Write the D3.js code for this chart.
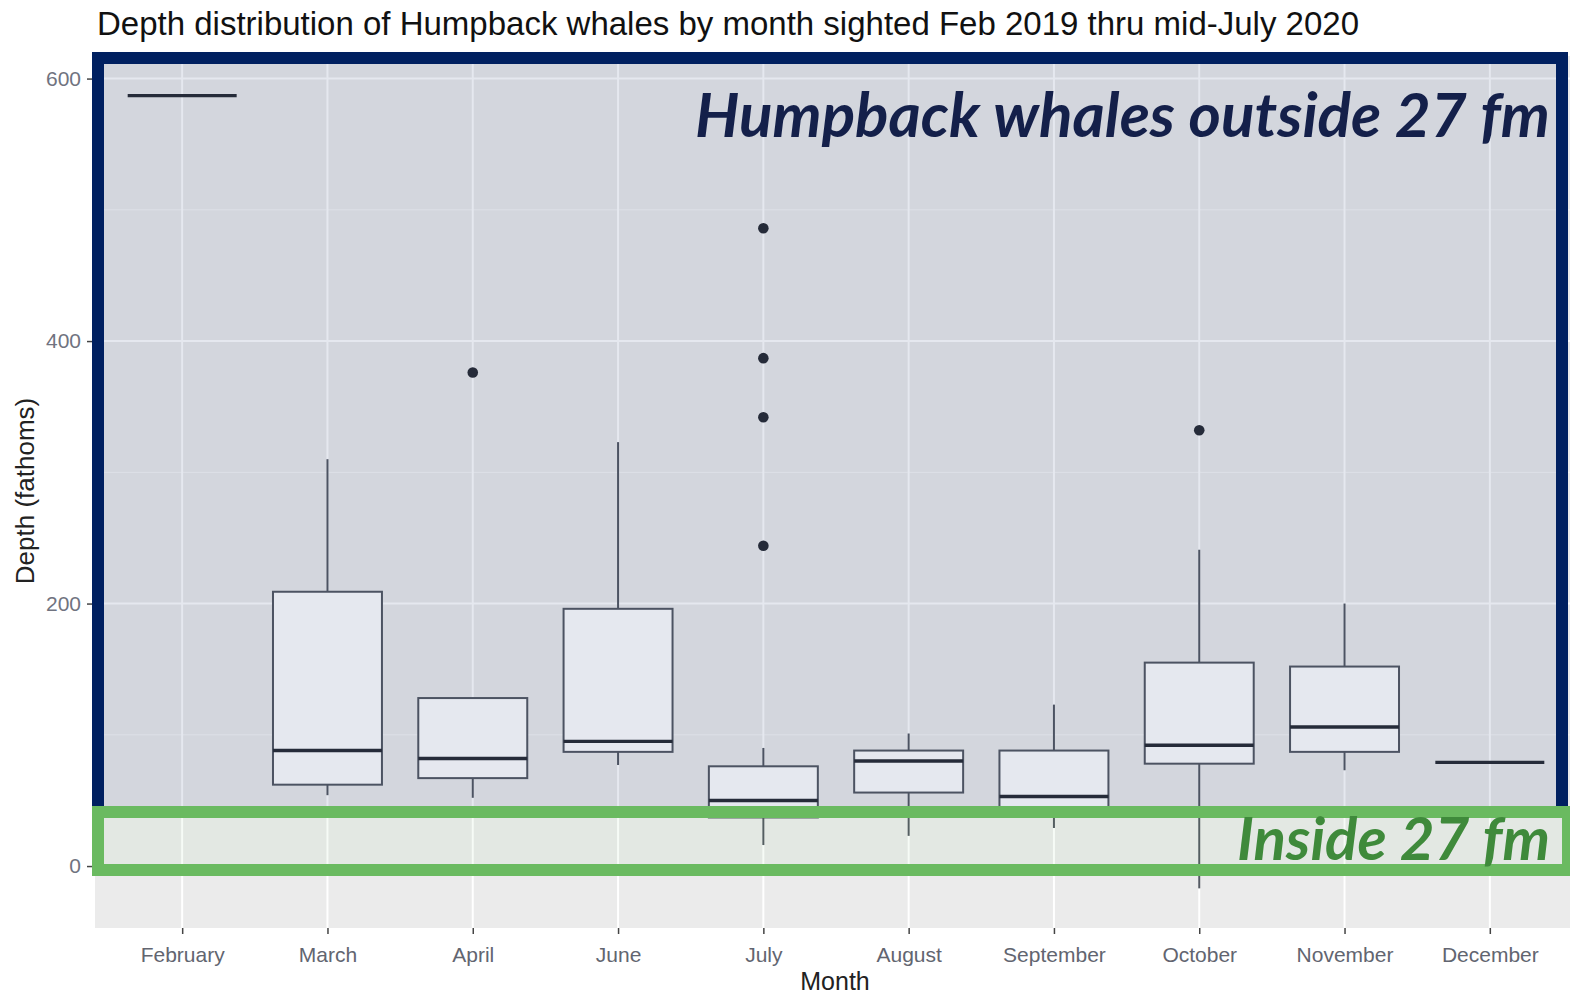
<!DOCTYPE html>
<html>
<head>
<meta charset="utf-8">
<script src="https://cdn.jsdelivr.net/npm/d3@7"></script>
<style>
  body { margin: 0; background: #fff; }
  svg { display: block; }
</style>
</head>
<body>
<svg id="chart"></svg>
<script>
'use strict';
// months on the x axis
var months = ["February", "March", "April", "June", "July", "August", "September", "October", "November", "December"];
// box stats per month (fathoms)
var lowWhisker = [587, 54, 52, 77, 16, 23, 29, -17, 73, 79];
var q1Values = [587, 62, 67, 87, 37, 56, 45, 78, 87, 79];
var medians = [587, 88, 82, 95, 50, 80, 53, 92, 106, 79];
var q3Values = [587, 209, 128, 196, 76, 88, 88, 155, 152, 79];
var highWhisker = [587, 310, 128, 323, 90, 101, 123, 241, 200, 79];
// outlier points
var outlierMonths = ["April", "July", "July", "July", "July", "October"];
var outlierValues = [376, 486, 387, 342, 244, 332];
var yTicks = [0, 200, 400, 600];
var yMinor = [100, 300, 500];

var W = 1570, H = 996;
var panel = { left: 95, right: 1577, top: 56, bottom: 928 };

var svg = d3.select("#chart").attr("width", W).attr("height", H);

var x = d3.scalePoint().domain(months).range([panel.left, panel.right]).padding(0.6);
var y = d3.scaleLinear().domain([-47.2, 617.2]).range([panel.bottom, panel.top]);
var boxW = x.step() * 0.75;

// panel background
svg.append("rect")
  .attr("x", panel.left).attr("y", panel.top)
  .attr("width", panel.right - panel.left).attr("height", panel.bottom - panel.top)
  .attr("fill", "#ebebeb");

// grid
var grid = svg.append("g");
grid.selectAll(".minor").data(yMinor).enter().append("line")
  .attr("x1", panel.left).attr("x2", panel.right)
  .attr("y1", function(d) { return y(d); }).attr("y2", function(d) { return y(d); })
  .attr("stroke", "#f7f7f7").attr("stroke-width", 1);
grid.selectAll(".major").data(yTicks).enter().append("line")
  .attr("x1", panel.left).attr("x2", panel.right)
  .attr("y1", function(d) { return y(d); }).attr("y2", function(d) { return y(d); })
  .attr("stroke", "#fff").attr("stroke-width", 2);
grid.selectAll(".vmajor").data(months).enter().append("line")
  .attr("x1", function(d) { return x(d); }).attr("x2", function(d) { return x(d); })
  .attr("y1", panel.top).attr("y2", panel.bottom)
  .attr("stroke", "#fff").attr("stroke-width", 2);

// boxplots
var stats = months.map(function(m, i) {
  return { month: m, lo: lowWhisker[i], q1: q1Values[i], med: medians[i], q3: q3Values[i], hi: highWhisker[i] };
});
var lineCol = "#555a63";
var boxes = svg.append("g").selectAll("g").data(stats).enter().append("g");
boxes.append("line")
  .attr("x1", function(d) { return x(d.month); }).attr("x2", function(d) { return x(d.month); })
  .attr("y1", function(d) { return y(d.hi); }).attr("y2", function(d) { return y(d.q3); })
  .attr("stroke", lineCol).attr("stroke-width", 2);
boxes.append("line")
  .attr("x1", function(d) { return x(d.month); }).attr("x2", function(d) { return x(d.month); })
  .attr("y1", function(d) { return y(d.q1); }).attr("y2", function(d) { return y(d.lo); })
  .attr("stroke", lineCol).attr("stroke-width", 2);
boxes.append("rect")
  .attr("x", function(d) { return x(d.month) - boxW / 2; })
  .attr("width", boxW)
  .attr("y", function(d) { return y(d.q3); })
  .attr("height", function(d) { return y(d.q1) - y(d.q3); })
  .attr("fill", "#fff").attr("stroke", lineCol).attr("stroke-width", 2);
boxes.append("line")
  .attr("x1", function(d) { return x(d.month) - boxW / 2; })
  .attr("x2", function(d) { return x(d.month) + boxW / 2; })
  .attr("y1", function(d) { return y(d.med); }).attr("y2", function(d) { return y(d.med); })
  .attr("stroke", "#2a2d35").attr("stroke-width", 3.4);

svg.append("g").selectAll("circle").data(outlierValues).enter().append("circle")
  .attr("cx", function(d, i) { return x(outlierMonths[i]); })
  .attr("cy", function(d) { return y(d); })
  .attr("r", 5.3)
  .attr("fill", "#2a2d35");

// axes
var xAxis = svg.append("g")
  .attr("transform", "translate(0," + panel.bottom + ")")
  .call(d3.axisBottom(x).tickSizeInner(6).tickSizeOuter(0).tickPadding(13));
xAxis.select(".domain").remove();
xAxis.selectAll("line").attr("stroke", "#444").attr("stroke-width", 1.5);
xAxis.selectAll("text")
  .attr("fill", "#626570")
  .style("font-family", "'Liberation Sans', Arial, sans-serif")
  .style("font-size", "21px");

var yAxis = svg.append("g")
  .attr("transform", "translate(" + (panel.left - 2) + ",0)")
  .call(d3.axisLeft(y).tickValues(yTicks).tickSizeInner(6).tickSizeOuter(0).tickPadding(6));
yAxis.select(".domain").remove();
yAxis.selectAll("line").attr("stroke", "#444").attr("stroke-width", 1.5);
yAxis.selectAll("text")
  .attr("fill", "#707380")
  .style("font-family", "'Liberation Sans', Arial, sans-serif")
  .style("font-size", "21px");

// titles
svg.append("text")
  .attr("x", 97).attr("y", 35)
  .attr("fill", "#111")
  .style("font-family", "'Liberation Sans', Arial, sans-serif")
  .style("font-size", "33px")
  .text("Depth distribution of Humpback whales by month sighted Feb 2019 thru mid-July 2020");

svg.append("text")
  .attr("x", 835).attr("y", 990)
  .attr("text-anchor", "middle")
  .attr("fill", "#222")
  .style("font-family", "'Liberation Sans', Arial, sans-serif")
  .style("font-size", "25px")
  .text("Month");

svg.append("text")
  .attr("transform", "translate(34,491) rotate(-90)")
  .attr("text-anchor", "middle")
  .attr("fill", "#222")
  .style("font-family", "'Liberation Sans', Arial, sans-serif")
  .style("font-size", "26px")
  .text("Depth (fathoms)");

// annotation frames laid over the chart
svg.append("rect")
  .attr("x", 98).attr("y", 58).attr("width", 1464).attr("height", 754)
  .attr("fill", "#002060").attr("fill-opacity", 0.1)
  .attr("stroke", "#002060").attr("stroke-width", 12);
svg.append("rect")
  .attr("x", 98).attr("y", 812).attr("width", 1470).attr("height", 58)
  .attr("fill", "#4caf50").attr("fill-opacity", 0.05)
  .attr("stroke", "#6aba60").attr("stroke-width", 12);

svg.append("text")
  .attr("x", 1550).attr("y", 137)
  .attr("text-anchor", "end")
  .attr("fill", "#14204a")
  .style("font-family", "Lato, 'Open Sans', sans-serif")
  .style("font-weight", "700").style("font-style", "italic")
  .style("font-size", "62px")
  .text("Humpback whales outside 27 fm");

svg.append("text")
  .attr("x", 1550).attr("y", 860)
  .attr("text-anchor", "end")
  .attr("fill", "#3f8a3b")
  .style("font-family", "Lato, 'Open Sans', sans-serif")
  .style("font-weight", "700").style("font-style", "italic")
  .style("font-size", "60px")
  .text("Inside 27 fm");
</script>
</body>
</html>
